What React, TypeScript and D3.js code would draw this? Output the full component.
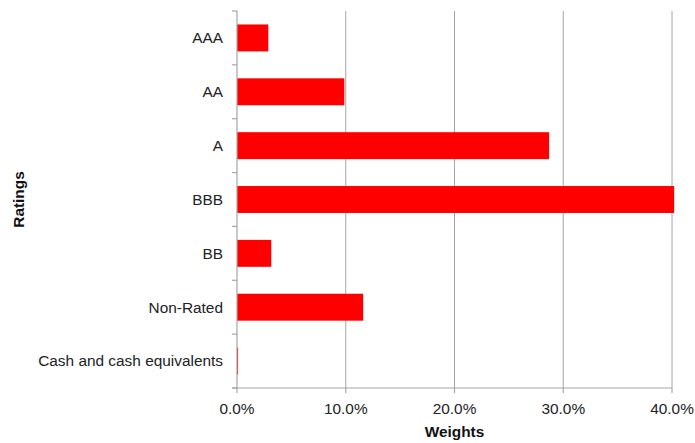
import React from "react";
import * as d3 from "d3";

const categories = ["AAA", "AA", "A", "BBB", "BB", "Non-Rated", "Cash and cash equivalents"];
const weights = [2.88, 9.87, 28.7, 40.2, 3.15, 11.6, 0.1];
const xTicks = [0, 10, 20, 30, 40];

export default function App() {
  const width = 695;
  const height = 443;
  const left = 237;
  const right = 672;
  const top = 11;
  const bottom = 388;

  const x = d3.scaleLinear().domain([0, 40]).range([left, right]);
  const y = d3.scaleBand().domain(categories).range([top, bottom]).paddingInner(0.5).paddingOuter(0.25);
  const boundaries = d3.range(categories.length + 1).map((i) => top + i * ((bottom - top) / categories.length));
  const font = "'Liberation Sans', Arial, sans-serif";
  const grey = "#a6a6a6";
  const fs = 15.4;

  return (
    <svg width={width} height={height} style={{ position: "absolute", left: 0, top: 0 }} fontFamily={font}>
      {xTicks.filter((t) => t > 0).map((t) => (
        <line key={"g" + t} x1={x(t)} x2={x(t)} y1={top} y2={bottom} stroke={grey} strokeWidth={1} />
      ))}
      {categories.map((c, i) => (
        <rect key={c} x={x(0)} y={y(c)!} width={Math.max(x(weights[i]) - x(0), 0.8)} height={y.bandwidth()} fill="#ff0000" />
      ))}
      <line x1={left} x2={left} y1={top} y2={bottom} stroke={grey} strokeWidth={1.2} />
      <line x1={left - 5} x2={right} y1={bottom} y2={bottom} stroke={grey} strokeWidth={1.2} />
      {boundaries.map((b, i) => (
        <line key={"yt" + i} x1={left - 5} x2={left} y1={b} y2={b} stroke={grey} strokeWidth={1.2} />
      ))}
      {xTicks.map((t) => (
        <g key={"xt" + t}>
          <line x1={x(t)} x2={x(t)} y1={bottom} y2={bottom + 5} stroke={grey} strokeWidth={1.2} />
          <text x={x(t)} y={bottom + 26} textAnchor="middle" fontSize={fs} fill="#222">
            {t.toFixed(1) + "%"}
          </text>
        </g>
      ))}
      {categories.map((c) => (
        <text key={"l" + c} x={223} y={y(c)! + y.bandwidth() / 2} dy="0.35em" textAnchor="end" fontSize={fs} fill="#222">
          {c}
        </text>
      ))}
      <text x={(left + right) / 2} y={437} textAnchor="middle" fontSize={fs} fontWeight="bold" fill="#111">
        Weights
      </text>
      <text transform={`translate(24,${(top + bottom) / 2}) rotate(-90)`} textAnchor="middle" fontSize={fs} fontWeight="bold" fill="#111">
        Ratings
      </text>
    </svg>
  );
}
